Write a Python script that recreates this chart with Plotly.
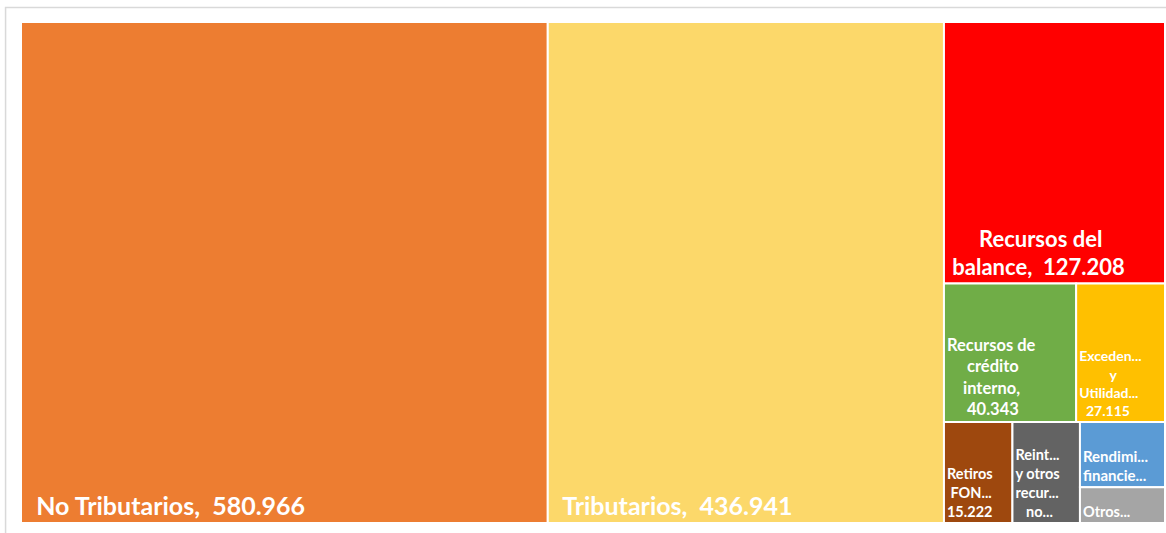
import plotly.graph_objects as go

root = "Total"
labels = ["No Tributarios", "Tributarios", "Recursos del balance",
          "Recursos de crédito interno", "Excedentes y Utilidades",
          "Retiros FONPET", "Reintegros y otros recursos no apropiados",
          "Rendimientos financieros", "Otros"]
values = [580.966, 436.941, 127.208, 40.343, 27.115, 15.222, 15.0, 12.2, 6.7]
NB = "\u00a0"
display_text = [NB * 2 + "No Tributarios,  580.966",
                NB * 2 + "Tributarios,  436.941",
                NB * 6 + "Recursos del<br>" + NB + "balance,  127.208",
                "Recursos de<br>" + NB * 5 + "crédito<br>" + NB * 4 + "interno,<br>" + NB * 5 + "40.343",
                "Exceden...<br>" + NB * 9 + "y<br>Utilidad...<br>" + NB * 2 + "27.115",
                "Retiros<br>" + NB + "FON...<br>15.222",
                "Reint...<br>y otros<br>recur...<br>" + NB * 3 + "no...",
                "Rendimi...<br>financie...", "Otros..."]
colors = ["#ED7D31", "#FCD86A", "#FF0000", "#70AD47", "#FFC000",
          "#9E480E", "#636363", "#5B9BD5", "#A5A5A5"]
font_sizes = [25, 25, 22, 16.5, 14, 14.5, 14.5, 15, 14.5]

all_labels = [root] + labels
all_parents = [""] + [root] * len(labels)
all_values = [0] + values
all_text = [""] + display_text
all_colors = ["white"] + colors
all_sizes = [10] + font_sizes

fig = go.Figure(go.Treemap(
    labels=all_labels,
    parents=all_parents,
    values=all_values,
    branchvalues="remainder",
    text=all_text,
    texttemplate="<b>%{text}</b>",
    textposition="bottom left",
    textfont=dict(family="Lato", color="white", size=all_sizes),
    marker=dict(colors=all_colors, line=dict(color="white", width=2),
                pad=dict(t=0, l=0, r=0, b=0)),
    tiling=dict(packing="squarify", squarifyratio=1, pad=0),
    pathbar=dict(visible=False),
    sort=True,
    hoverinfo="label+value",
))

fig.update_layout(
    width=1166, height=533,
    margin=dict(l=21, r=1, t=22, b=10),
    paper_bgcolor="white",
    shapes=[dict(type="rect", xref="paper", yref="paper",
                 x0=-0.0135, x1=1.01, y0=-0.03, y1=1.029,
                 line=dict(color="#D9D9D9", width=1.5), fillcolor="rgba(0,0,0,0)")],
)

post = ("document.body.style.margin='0';"
        "document.body.style.overflow='hidden';"
        "Plotly.relayout('{plot_id}', {width: 1166, height: 533});")

fig.write_html("out.html", post_script=post, config={"displayModeBar": False})
